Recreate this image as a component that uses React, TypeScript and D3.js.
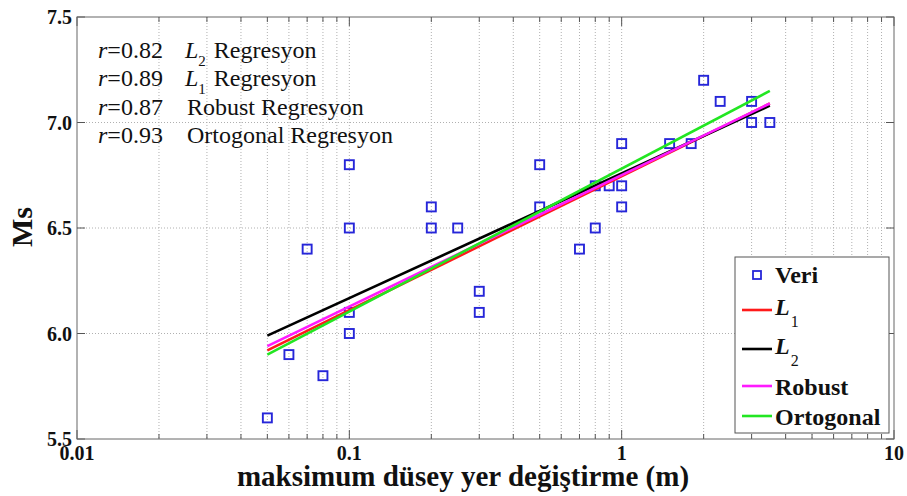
import React from 'react';
import * as d3 from 'd3';

// data
const veriX = [0.05, 0.06, 0.07, 0.08, 0.1, 0.1, 0.1, 0.1, 0.2, 0.2, 0.25, 0.3, 0.3, 0.5, 0.5, 0.7, 0.8, 0.8, 0.9, 1, 1, 1, 1.5, 1.8, 2, 2.3, 3, 3, 3.5];
const veriY = [5.6, 5.9, 6.4, 5.8, 6.8, 6.5, 6.1, 6.0, 6.6, 6.5, 6.5, 6.2, 6.1, 6.8, 6.6, 6.4, 6.5, 6.7, 6.7, 6.7, 6.6, 6.9, 6.9, 6.9, 7.2, 7.1, 7.1, 7.0, 7.0];

const lineX = [0.05, 3.5];
const l1Y = [5.92, 7.09];
const l2Y = [5.99, 7.08];
const robustY = [5.94, 7.09];
const ortoY = [5.9, 7.15];

const yTicks = [5.5, 6.0, 6.5, 7.0, 7.5];
const xTicks = [0.01, 0.1, 1, 10];
const xTickLabels = ['0.01', '0.1', '1', '10'];

const annotations = [
  { r: '0.82', sub: '2', label: 'Regresyon' },
  { r: '0.89', sub: '1', label: 'Regresyon' },
  { r: '0.87', sub: null, label: 'Robust Regresyon' },
  { r: '0.93', sub: null, label: 'Ortogonal Regresyon' },
];

const W = 907;
const H = 496;
const margin = { top: 17, right: 13, bottom: 57, left: 77 };

const x = d3.scaleLog().domain([0.01, 10]).range([margin.left, W - margin.right]);
const y = d3.scaleLinear().domain([5.5, 7.5]).range([H - margin.bottom, margin.top]);

const line = d3.line<number>()
  .x((d, i) => x(lineX[i]))
  .y(d => y(d));

const series = [
  { name: 'L1', values: l1Y, color: '#ff1a1a' },
  { name: 'L2', values: l2Y, color: '#000000' },
  { name: 'Robust', values: robustY, color: '#ff1aff' },
  { name: 'Ortogonal', values: ortoY, color: '#22e622' },
];

// minor + major decade positions
const gridX: number[] = [];
for (let e = -2; e < 1; e++) {
  for (let m = 1; m <= 9; m++) gridX.push(m * Math.pow(10, e));
}
gridX.push(10);

const serif = '"Liberation Serif", "Times New Roman", serif';

const App = () => {
  const [x0, x1] = x.range();
  const [y0, y1] = y.range();
  const markSize = 9;

  return (
    <svg width={W} height={H} style={{ position: 'absolute', left: 0, top: 0, background: '#fff' }} fontFamily={serif}>
      {/* grid */}
      <g stroke="#b0b0b0" strokeWidth={1} strokeDasharray="1,2">
        {gridX.filter(v => v > 0.01 && v < 10).map((v, i) => (
          <line key={'gx' + i} x1={x(v)} x2={x(v)} y1={y1} y2={y0} />
        ))}
        {yTicks.filter(v => v > 5.5 && v < 7.5).map((v, i) => (
          <line key={'gy' + i} x1={x0} x2={x1} y1={y(v)} y2={y(v)} />
        ))}
      </g>

      {/* ticks */}
      <g stroke="#555" strokeWidth={1}>
        {gridX.map((v, i) => {
          const len = xTicks.includes(v) ? 9 : 5;
          return (
            <g key={'tx' + i}>
              <line x1={x(v)} x2={x(v)} y1={y0} y2={y0 - len} />
              <line x1={x(v)} x2={x(v)} y1={y1} y2={y1 + len} />
            </g>
          );
        })}
        {yTicks.map((v, i) => (
          <g key={'ty' + i}>
            <line x1={x0} x2={x0 + 8} y1={y(v)} y2={y(v)} />
            <line x1={x1} x2={x1 - 8} y1={y(v)} y2={y(v)} />
          </g>
        ))}
      </g>
      <rect x={x0} y={y1} width={x1 - x0} height={y0 - y1} fill="none" stroke="#666" strokeWidth={1} />

      {/* tick labels */}
      <g fontWeight="bold" fontSize={20} fill="#111">
        {yTicks.map((v, i) => (
          <text key={'yl' + i} x={x0 - 5} y={y(v)} dy="0.35em" textAnchor="end">{d3.format('.1f')(v)}</text>
        ))}
        {xTicks.map((v, i) => (
          <text key={'xl' + i} x={x(v)} y={y0 + 21} textAnchor="middle">{xTickLabels[i]}</text>
        ))}
      </g>

      {/* axis titles */}
      <text x={463} y={486} textAnchor="middle" fontWeight="bold" fontSize={29} fill="#111">maksimum düsey yer değiştirme (m)</text>
      <text transform="translate(32,227) rotate(-90)" textAnchor="middle" fontWeight="bold" fontSize={30} fill="#111">Ms</text>

      {/* data points */}
      <g fill="none" stroke="#2626d9" strokeWidth={1.9}>
        {veriX.map((v, i) => (
          <rect key={'p' + i} x={x(v) - markSize / 2} y={y(veriY[i]) - markSize / 2} width={markSize} height={markSize} />
        ))}
      </g>

      {/* regression lines */}
      {series.map(s => (
        <path key={s.name} d={line(s.values) || ''} fill="none" stroke={s.color} strokeWidth={2.6} />
      ))}

      {/* annotations */}
      <g fontSize={24} fill="#111">
        {annotations.map((a, i) => {
          const by = 58 + i * 28.3;
          return (
            <g key={'an' + i}>
              <text x={98} y={by}>
                <tspan fontStyle="italic">r</tspan>=<tspan>{a.r}</tspan>
              </text>
              {a.sub ? (
                <text x={185} y={by}>
                  <tspan fontStyle="italic">L</tspan>
                  <tspan fontSize={15} dy={8}>{a.sub}</tspan>
                  <tspan dy={-8} dx={8}>{a.label}</tspan>
                </text>
              ) : (
                <text x={187} y={by}>{a.label}</text>
              )}
            </g>
          );
        })}
      </g>

      {/* legend */}
      <g>
        <rect x={735} y={257} width={154} height={176} fill="#fff" stroke="#555" strokeWidth={1} />
        <rect x={757 - 4} y={275 - 4} width={8} height={8} fill="none" stroke="#2626d9" strokeWidth={1.8} />
        <text x={775} y={283} fontWeight="bold" fontSize={24} fill="#111">Veri</text>
        {[
          { s: series[0], ly: 310, ty: 315, main: 'L', sub: '1' },
          { s: series[1], ly: 349, ty: 354, main: 'L', sub: '2' },
          { s: series[2], ly: 386, ty: 395, main: 'Robust', sub: null },
          { s: series[3], ly: 416, ty: 425, main: 'Ortogonal', sub: null },
        ].map(r => (
          <g key={'lg' + r.s.name}>
            <line x1={742} x2={772} y1={r.ly} y2={r.ly} stroke={r.s.color} strokeWidth={2.6} />
            <text x={775} y={r.ty} fontWeight="bold" fontSize={24} fill="#111">
              {r.sub ? (
                <>
                  <tspan fontStyle="italic">{r.main}</tspan>
                  <tspan fontSize={16} fontWeight="normal" dy={12} dx={1}>{r.sub}</tspan>
                </>
              ) : r.main}
            </text>
          </g>
        ))}
      </g>
    </svg>
  );
};

export default App;
